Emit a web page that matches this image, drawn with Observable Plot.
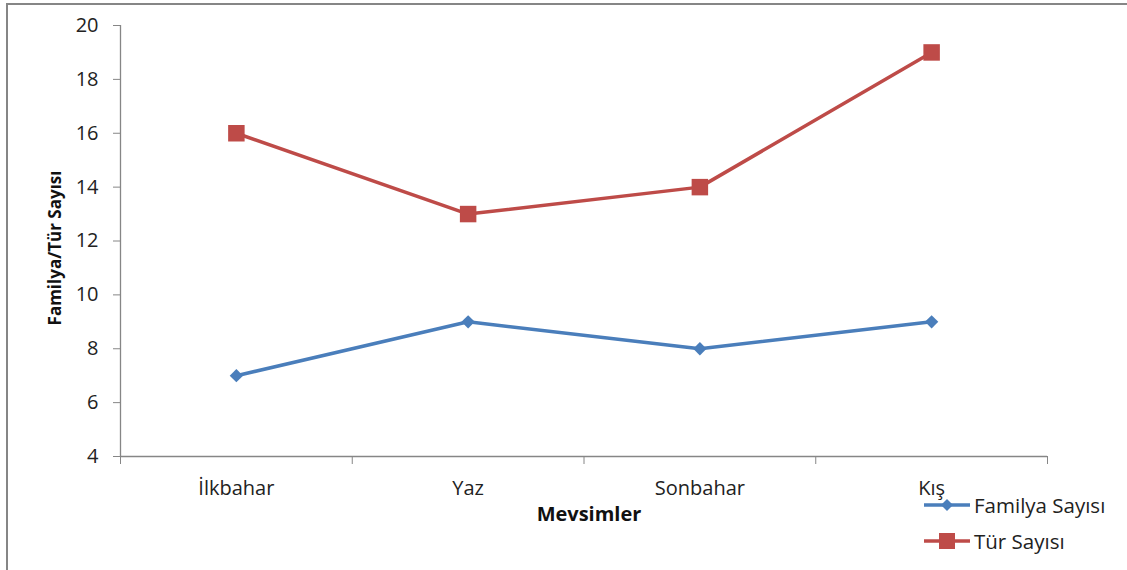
<!DOCTYPE html>
<html>
<head>
<meta charset="utf-8">
<script src="https://cdn.jsdelivr.net/npm/d3@7"></script>
<script src="https://cdn.jsdelivr.net/npm/@observablehq/plot@0.6"></script>
<style>
  html, body { margin: 0; padding: 0; background: #fff; }
  #wrap { position: relative; width: 1127px; height: 570px; overflow: hidden; font-family: "Open Sans", sans-serif; }
  #frame { position: absolute; left: 6px; top: 3px; width: 1200px; height: 700px; border-top: 2px solid #868686; border-left: 2px solid #868686; }
  #chart { position: absolute; left: 0; top: 0; }
  .leg { position: absolute; left: 922px; display: flex; align-items: center; font-size: 20.5px; color: #222; }
  .leg svg { margin-right: 2px; }
</style>
</head>
<body>
<div id="wrap">
  <div id="frame"></div>
  <div id="chart"></div>
  <div class="leg" style="top:491px"><svg width="50" height="20"><line x1="2" x2="48" y1="10" y2="10" stroke="#4a7ebb" stroke-width="3.5"/><path d="M25 4 L31 10 L25 16 L19 10 Z" fill="#4a7ebb"/></svg><span>Familya Sayısı</span></div>
  <div class="leg" style="top:527px"><svg width="50" height="20"><line x1="2" x2="48" y1="10" y2="10" stroke="#be4b48" stroke-width="3.5"/><rect x="17" y="2" width="16" height="16" fill="#be4b48"/></svg><span>Tür Sayısı</span></div>
</div>
<script>
const seasons = ["İlkbahar", "Yaz", "Sonbahar", "Kış"];
const familya = [7, 9, 8, 9];
const tur = [16, 13, 14, 19];
const yTicks = [4, 6, 8, 10, 12, 14, 16, 18, 20];

const famData = seasons.map((s, i) => ({i: i + 0.5, v: familya[i]}));
const turData = seasons.map((s, i) => ({i: i + 0.5, v: tur[i]}));
const axisGray = "#868686";

const chart = Plot.plot({
  width: 1127,
  height: 570,
  marginLeft: 120,
  marginRight: 80,
  marginTop: 25,
  marginBottom: 114,
  style: {fontFamily: "'Open Sans', sans-serif", fontSize: "20px", color: "#222", background: "transparent"},
  x: {type: "linear", domain: [0, seasons.length]},
  y: {domain: [4, 20]},
  marks: [
    Plot.ruleX([0], {y1: 4, y2: 20, stroke: axisGray, strokeWidth: 1.3}),
    Plot.ruleY([4], {x1: 0, x2: seasons.length, stroke: axisGray, strokeWidth: 1.3}),
    Plot.axisY({ticks: yTicks, tickSize: 7, tickPadding: 15, stroke: axisGray, label: null, fontSize: 20}),
    Plot.axisX({ticks: d3.range(seasons.length + 1), tickSize: 8, tickFormat: () => "", stroke: axisGray, label: null}),
    Plot.axisX({ticks: seasons.map((s, i) => i + 0.5), tickSize: 0, tickPadding: 24, tickFormat: d => seasons[Math.round(d - 0.5)], label: null, fontSize: 20}),
    Plot.text(["Familya/Tür Sayısı"], {frameAnchor: "left", textAnchor: "middle", rotate: -90, dx: -65, dy: 7, fontWeight: "bold", fontSize: 17, fill: "#111"}),
    Plot.text(["Mevsimler"], {frameAnchor: "bottom", dy: 64, dx: 5, fontWeight: "bold", fontSize: 20, fill: "#111"}),
    Plot.line(famData, {x: "i", y: "v", stroke: "#4a7ebb", strokeWidth: 3.5}),
    Plot.dot(famData, {x: "i", y: "v", symbol: "diamond2", r: 6, fill: "#4a7ebb", stroke: "none"}),
    Plot.line(turData, {x: "i", y: "v", stroke: "#be4b48", strokeWidth: 3.5}),
    Plot.dot(turData, {x: "i", y: "v", symbol: "square2", r: 10.5, fill: "#be4b48", stroke: "none"})
  ]
});
document.getElementById("chart").appendChild(chart);
</script>
</body>
</html>
